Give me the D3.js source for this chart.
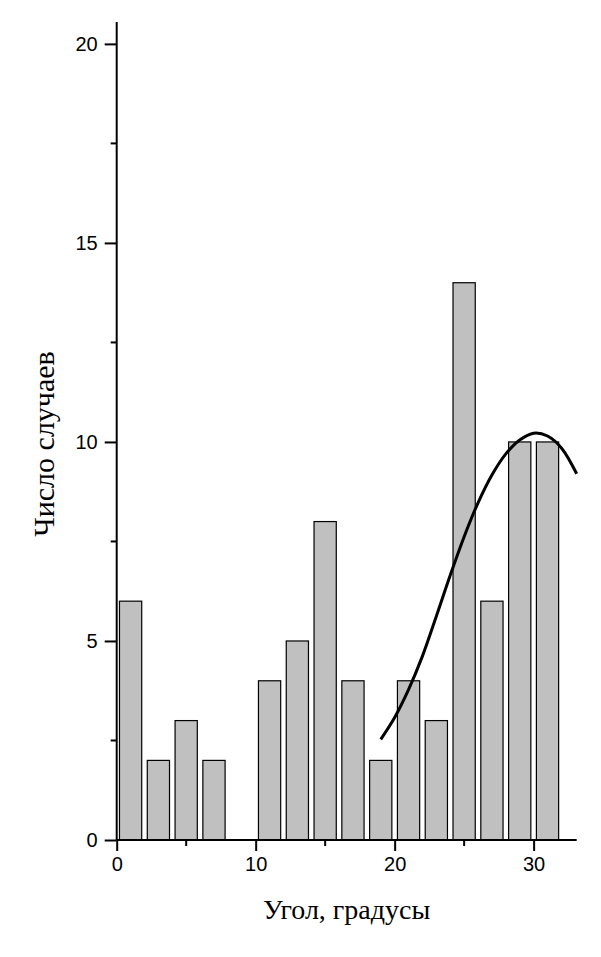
<!DOCTYPE html>
<html>
<head>
<meta charset="utf-8">
<script src="https://cdn.jsdelivr.net/npm/d3@7"></script>
<style>
  html, body { margin: 0; padding: 0; background: #fff; }
  svg { display: block; }
</style>
</head>
<body>
<svg id="chart" width="601" height="957"></svg>
<script>
// ---- data ----
const binCenters = [1, 3, 5, 7, 9, 11, 13, 15, 17, 19, 21, 23, 25, 27, 29, 31];
const counts     = [6, 2, 3, 2, 0, 4, 5, 8, 4, 2, 4, 3, 14, 6, 10, 10];
const fitX = [19.0, 20.0, 21.0, 22.0, 23.0, 24.0, 25.0, 26.0, 27.0, 28.0, 29.0, 30.0, 31.0, 32.0, 33.1];
const fitY = [2.53, 3.08, 3.78, 4.62, 5.62, 6.65, 7.62, 8.47, 9.17, 9.7, 10.05, 10.22, 10.15, 9.85, 9.2];
const xTicks = [0, 10, 20, 30];
const xMinorTicks = [5, 15, 25];
const yTicks = [0, 5, 10, 15, 20];
const yMinorTicks = [2.5, 7.5, 12.5, 17.5];
const xTitle = "Угол, градусы";
const yTitle = "Число случаев";

// ---- layout ----
const svg = d3.select("#chart");
const x = d3.scaleLinear().domain([0, 33.1]).range([116.7, 576.7]);
const y = d3.scaleLinear().domain([0, 20.55]).range([840, 22]);
const barW = 1.6;

// bars
svg.append("g").selectAll("rect")
  .data(binCenters.map((c, i) => ({c, v: counts[i]})).filter(d => d.v > 0))
  .join("rect")
  .attr("x", d => x(d.c - barW / 2))
  .attr("width", d => x(d.c + barW / 2) - x(d.c - barW / 2))
  .attr("y", d => y(d.v))
  .attr("height", d => y(0) - y(d.v))
  .attr("fill", "#c0c0c0")
  .attr("stroke", "#000")
  .attr("stroke-width", 1.2);

// fit curve
const line = d3.line()
  .x(d => x(d[0])).y(d => y(d[1]))
  .curve(d3.curveCatmullRom.alpha(0.5));
svg.append("path")
  .datum(fitX.map((v, i) => [v, fitY[i]]))
  .attr("d", line)
  .attr("fill", "none")
  .attr("stroke", "#000")
  .attr("stroke-width", 3);

const tickFont = "'Liberation Sans', Arial, sans-serif";

// x axis
const xAxis = d3.axisBottom(x).tickValues(xTicks).tickSize(11).tickPadding(6).tickFormat(d3.format("d"));
const gx = svg.append("g").attr("transform", `translate(0,${y(0)})`).call(xAxis);
gx.select(".domain").attr("d", `M${x(0)},0H${x(33.1)}`).attr("stroke-width", 2);
gx.selectAll(".tick line").attr("stroke-width", 2);
gx.selectAll(".tick text").attr("font-family", tickFont).attr("font-size", 20).attr("fill", "#000");
svg.append("g").attr("transform", `translate(0,${y(0)})`)
  .selectAll("line").data(xMinorTicks).join("line")
  .attr("x1", d => x(d)).attr("x2", d => x(d)).attr("y1", 0).attr("y2", 6)
  .attr("stroke", "#000").attr("stroke-width", 2);

// y axis
const yAxis = d3.axisLeft(y).tickValues(yTicks).tickSize(12).tickPadding(7).tickFormat(d3.format("d"));
const gy = svg.append("g").attr("transform", `translate(${x(0)},0)`).call(yAxis);
gy.select(".domain").attr("d", `M0,${y(0)}V${y(20.55)}`).attr("stroke-width", 2);
gy.selectAll(".tick line").attr("stroke-width", 2);
gy.selectAll(".tick text").attr("font-family", tickFont).attr("font-size", 20).attr("fill", "#000");
svg.append("g").attr("transform", `translate(${x(0)},0)`)
  .selectAll("line").data(yMinorTicks).join("line")
  .attr("y1", d => y(d)).attr("y2", d => y(d)).attr("x1", 0).attr("x2", -6)
  .attr("stroke", "#000").attr("stroke-width", 2);

// titles
svg.append("text")
  .attr("x", (x(0) + x(33.1)) / 2).attr("y", 919)
  .attr("text-anchor", "middle")
  .attr("font-family", "'Liberation Serif', 'Times New Roman', serif")
  .attr("font-size", 28)
  .text(xTitle);
svg.append("text")
  .attr("transform", `translate(54,444) rotate(-90)`)
  .attr("text-anchor", "middle")
  .attr("font-family", "'Liberation Serif', 'Times New Roman', serif")
  .attr("font-size", 30)
  .text(yTitle);
</script>
</body>
</html>
